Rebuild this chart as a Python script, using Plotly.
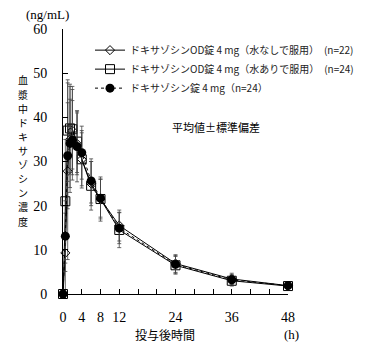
import plotly.graph_objects as go

# ---- data ----
time_h = [0, 0.5, 1, 1.5, 2, 3, 4, 6, 8, 12, 24, 36, 48]

od_nowater_mean = [0, 9.3, 27.8, 35.0, 37.0, 34.0, 30.5, 25.0, 21.5, 15.5, 6.9, 3.4, 1.9]
od_nowater_sd   = [0, 9.0, 20.0, 12.0, 10.0, 7.0, 6.0, 5.0, 4.5, 3.5, 2.0, 1.3, 0.8]

od_water_mean = [0, 21.0, 37.0, 37.5, 37.3, 34.5, 30.5, 24.5, 21.5, 14.5, 6.5, 3.0, 1.8]
od_water_sd   = [0, 14.0, 11.5, 10.0, 9.0, 7.0, 6.5, 5.5, 5.0, 4.0, 2.0, 1.2, 0.8]

tab_mean = [0, 13.1, 31.3, 34.1, 34.8, 33.4, 32.0, 25.6, 21.7, 14.9, 6.7, 3.2, 1.9]
tab_sd   = [0, 8.0, 12.0, 10.0, 9.0, 8.0, 6.0, 5.0, 4.3, 3.5, 2.0, 1.2, 0.8]

series_names = [
    "ドキサゾシンOD錠 4 mg（水なしで服用）　(n=22)",
    "ドキサゾシンOD錠 4 mg（水ありで服用）　(n=24)",
    "ドキサゾシン錠 4 mg（n=24）",
]

x_tick_vals = list(range(0, 49, 4))
x_tick_labels = ["0", "4", "8", "12", "", "", "24", "", "", "36", "", "", "48"]
y_tick_vals = [0, 10, 20, 30, 40, 50, 60]

y_title_chars = list("血漿中ドキサゾシン濃度")

SERIF = "Liberation Serif, Noto Sans CJK JP, serif"
JP = "Noto Sans CJK JP, sans-serif"

fig = go.Figure()

def err(sd):
    return dict(type="data", array=sd, visible=True, color="#444",
                thickness=0.8, width=2)

fig.add_trace(go.Scatter(
    x=time_h, y=od_nowater_mean, name=series_names[0], mode="lines+markers",
    line=dict(color="black", width=1),
    marker=dict(symbol="diamond-open", size=7, color="black", line=dict(width=1)),
    error_y=err(od_nowater_sd), cliponaxis=False))

fig.add_trace(go.Scatter(
    x=time_h, y=od_water_mean, name=series_names[1], mode="lines+markers",
    line=dict(color="black", width=1),
    marker=dict(symbol="square-open", size=9, color="black", line=dict(width=1)),
    error_y=err(od_water_sd), cliponaxis=False))

fig.add_trace(go.Scatter(
    x=time_h, y=tab_mean, name=series_names[2], mode="lines+markers",
    line=dict(color="black", width=1, dash="dot"),
    marker=dict(symbol="circle", size=9, color="black"),
    error_y=err(tab_sd), cliponaxis=False))

fig.update_layout(
    width=371, height=349,
    margin=dict(l=63, r=40, t=29, b=55),
    paper_bgcolor="white", plot_bgcolor="white",
    font=dict(family=SERIF, size=13, color="black"),
    showlegend=True,
    legend=dict(x=0.12, y=0.975, xanchor="left", yanchor="top",
                font=dict(family=JP, size=10, color="#222"),
                bgcolor="rgba(0,0,0,0)", itemwidth=30, tracegroupgap=0),
    xaxis=dict(range=[0, 48], tickvals=x_tick_vals, ticktext=x_tick_labels,
               ticks="inside", ticklen=5, tickcolor="black",
               showline=True, linecolor="black", linewidth=1,
               showgrid=False, zeroline=False, ticklabelstandoff=10,
               tickfont=dict(family=SERIF, size=14, color="black")),
    yaxis=dict(range=[0, 60], tickvals=y_tick_vals,
               ticks="inside", ticklen=5, tickcolor="black",
               showline=True, linecolor="black", linewidth=1,
               showgrid=False, zeroline=False, ticklabelstandoff=12,
               tickfont=dict(family=SERIF, size=14, color="black")),
)

annos = [
    dict(text="平均値±標準偏差", x=245, y=127, font=dict(family=JP, size=11, color="black")),
    dict(text="(ng/mL)", x=45, y=14, font=dict(family=SERIF, size=13, color="black")),
    dict(text="投与後時間", x=185, y=334, font=dict(family=JP, size=12, color="black")),
    dict(text="(h)", x=335, y=334, font=dict(family=SERIF, size=13, color="black")),
]
# vertical y-axis title, one character per line
for i, ch in enumerate(y_title_chars):
    annos.append(dict(text=ch, x=15, y=80 + i * 14.1,
                      font=dict(family=JP, size=10, color="black")))

for a in annos:
    fig.add_annotation(text=a["text"], xref="paper", yref="paper",
                       x=(a["x"] - 63) / 268, y=(294 - a["y"]) / 265,
                       xanchor="center", yanchor="middle", showarrow=False,
                       font=a["font"])

fig.write_html("out.html")
